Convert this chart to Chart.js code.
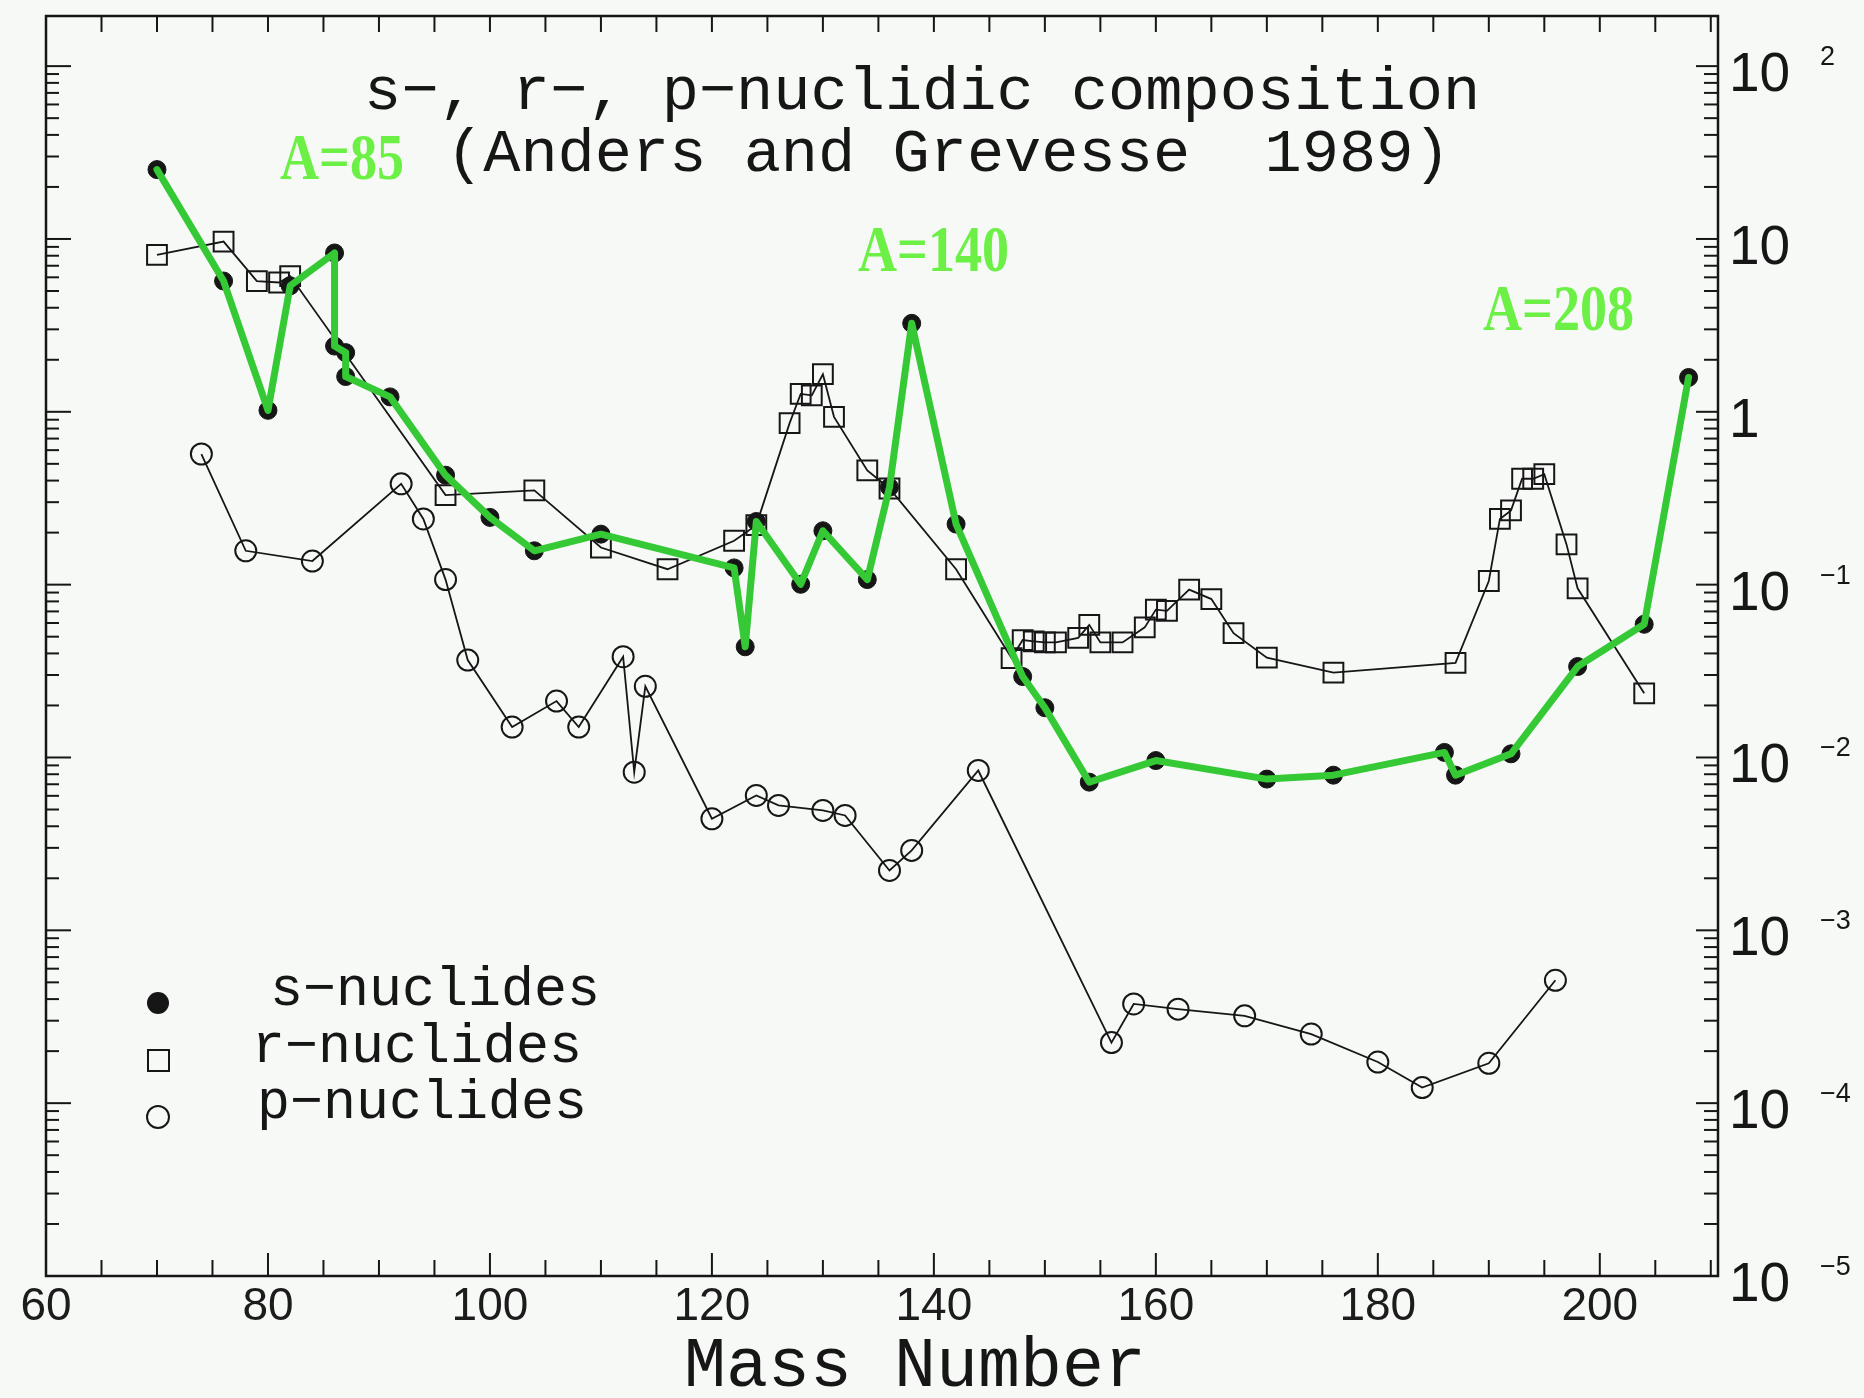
<!DOCTYPE html>
<html>
<head>
<meta charset="utf-8">
<title>s-, r-, p-nuclidic composition</title>
<script src="https://cdn.jsdelivr.net/npm/chart.js@4.4.1/dist/chart.umd.min.js"></script>
<style>
  html, body { margin: 0; padding: 0; background: #f7f9f7; }
  #contenedor { width: 1864px; height: 1398px; }
</style>
</head>
<body>
<div id="contenedor"><canvas id="grafico" width="1864" height="1398"></canvas></div>
<script>
// s-nuclides (puntos negros, unidos por la linea verde)
const sMasa = [70, 76, 80, 82, 86, 86, 87, 87, 91, 96, 100, 104, 110, 122, 123, 124, 128, 130, 134, 136, 138, 142, 148, 150, 154, 160, 170, 176, 186, 187, 192, 198, 204, 208];
const sAbund = [25.2, 5.71, 1.02, 5.36, 8.3, 2.4, 2.2, 1.6, 1.22, 0.43, 0.245, 0.157, 0.196, 0.125, 0.0437, 0.232, 0.1005, 0.205, 0.107, 0.366, 3.25, 0.224, 0.0294, 0.0194, 0.0072, 0.0096, 0.0075, 0.0079, 0.0107, 0.0079, 0.0105, 0.0336, 0.059, 1.58];

// r-nuclides (cuadrados)
const rMasa = [70, 76, 79, 81, 82, 96, 104, 110, 116, 122, 124, 127, 128, 129, 130, 131, 134, 136, 142, 147, 148, 149, 150, 151, 153, 154, 155, 157, 159, 160, 161, 163, 165, 167, 170, 176, 187, 190, 191, 192, 193, 194, 195, 197, 198, 204];
const rAbund = [8.1, 9.66, 5.71, 5.6, 6.1, 0.33, 0.351, 0.164, 0.1228, 0.1795, 0.221, 0.86, 1.27, 1.245, 1.65, 0.935, 0.458, 0.36, 0.1228, 0.0376, 0.0478, 0.047, 0.0463, 0.0463, 0.0492, 0.0585, 0.0463, 0.0463, 0.0566, 0.0717, 0.0706, 0.0936, 0.0825, 0.0524, 0.0378, 0.031, 0.0353, 0.105, 0.24, 0.269, 0.41, 0.41, 0.436, 0.171, 0.0952, 0.0235];

// p-nuclides (circulos abiertos)
const pMasa = [74, 78, 84, 92, 94, 96, 98, 102, 106, 108, 112, 113, 114, 120, 124, 126, 130, 132, 136, 138, 144, 156, 158, 162, 168, 174, 180, 184, 190, 196];
const pAbund = [0.57, 0.157, 0.137, 0.383, 0.24, 0.107, 0.0366, 0.015, 0.0212, 0.015, 0.0383, 0.00822, 0.0258, 0.00442, 0.00603, 0.00528, 0.00494, 0.00462, 0.00222, 0.0029, 0.00841, 2.24e-4, 3.75e-4, 3.5e-4, 3.2e-4, 2.51e-4, 1.73e-4, 1.23e-4, 1.7e-4, 5.14e-4];

// etiquetas de los ejes
const xEtiquetas = [60, 80, 100, 120, 140, 160, 180, 200];
const yDecadas = [1e2, 1e1, 1, 1e-1, 1e-2, 1e-3, 1e-4, 1e-5];
const yBase = ["10", "10", "1", "10", "10", "10", "10", "10"];
const yExpo = ["2", "", "", "\u22121", "\u22122", "\u22123", "\u22124", "\u22125"];

const tinta = "#161616";
const verdeLinea = "#35c935";
const verdeTexto = "#6cf046";

function puntos(masas, valores) {
  return masas.map((m, i) => ({ x: m, y: valores[i] }));
}

function linea(ctx, x1, y1, x2, y2) {
  ctx.beginPath();
  ctx.moveTo(x1, y1);
  ctx.lineTo(x2, y2);
  ctx.stroke();
}

// marco, marcas internas, textos y leyenda
const adornos = {
  id: "adornos",
  afterDraw(chart) {
    const { ctx, chartArea: a } = chart;
    const x = chart.scales.x;
    const y = chart.scales.y;
    ctx.save();
    ctx.strokeStyle = tinta;
    ctx.fillStyle = tinta;
    ctx.lineWidth = 2.5;
    ctx.strokeRect(a.left, a.top, a.right - a.left, a.bottom - a.top);

    // marcas del eje x cada 5 unidades
    ctx.lineWidth = 2;
    for (let m = 65; m < x.max; m += 5) {
      const px = x.getPixelForValue(m);
      linea(ctx, px, a.bottom, px, a.bottom - (m % 20 === 0 ? 23 : 16));
      linea(ctx, px, a.top, px, a.top + 16);
    }

    // marcas logaritmicas del eje y
    for (let e = -5; e <= 2; e++) {
      for (let k = 1; k <= 9; k++) {
        const v = k * Math.pow(10, e);
        if (v > y.max || v <= y.min) continue;
        const py = y.getPixelForValue(v);
        linea(ctx, a.left, py, a.left + (k === 1 ? 25 : 13), py);
        linea(ctx, a.right, py, a.right - (k === 1 ? 22 : 14), py);
      }
    }

    // etiquetas del eje y con exponente
    ctx.textAlign = "left";
    ctx.textBaseline = "alphabetic";
    yDecadas.forEach((v, i) => {
      const py = y.getPixelForValue(v);
      ctx.font = '55px "Liberation Sans"';
      ctx.fillText(yBase[i], a.right + 11, py + 25);
      if (yExpo[i]) {
        ctx.font = '27px "Liberation Sans"';
        ctx.fillText(yExpo[i], a.right + 102, py - 1);
      }
    });

    // titulo
    ctx.font = '62px "Liberation Mono"';
    ctx.fillText("s\u2212, r\u2212, p\u2212nuclidic composition", 364, 109);
    ctx.fillText("(Anders and Grevesse  1989)", 446, 171);

    // titulo del eje x
    ctx.font = '70px "Liberation Mono"';
    ctx.fillText("Mass Number", 684, 1386);

    // leyenda
    ctx.font = '55px "Liberation Mono"';
    ctx.fillText("s\u2212nuclides", 270, 1005);
    ctx.fillText("r\u2212nuclides", 252, 1062);
    ctx.fillText("p\u2212nuclides", 257, 1118);
    ctx.beginPath();
    ctx.arc(158, 1003, 11, 0, 2 * Math.PI);
    ctx.fill();
    ctx.lineWidth = 2;
    ctx.strokeRect(148, 1050, 21, 21);
    ctx.beginPath();
    ctx.arc(158, 1117, 11, 0, 2 * Math.PI);
    ctx.stroke();

    // anotaciones verdes
    ctx.fillStyle = verdeTexto;
    ctx.font = 'bold 66px "Liberation Serif"';
    [["A=85", 280, 179], ["A=140", 858, 271], ["A=208", 1483, 330]].forEach(([t, px, py]) => {
      ctx.save();
      ctx.translate(px, py);
      ctx.scale(0.82, 1);
      ctx.fillText(t, 0, 0);
      ctx.restore();
    });
    ctx.restore();
  },
};

const ctx = document.getElementById("grafico");
window.miGrafico = new Chart(ctx, {
  type: "scatter",
  data: {
    datasets: [
      {
        label: "camino s",
        data: puntos(sMasa, sAbund),
        showLine: true,
        borderColor: verdeLinea,
        borderWidth: 7,
        borderJoinStyle: "round",
        borderCapStyle: "round",
        pointRadius: 0,
        order: 0,
      },
      {
        label: "s-nuclides",
        data: puntos(sMasa, sAbund),
        showLine: false,
        pointStyle: "circle",
        pointRadius: 9,
        backgroundColor: tinta,
        borderColor: tinta,
        borderWidth: 1,
        order: 1,
      },
      {
        label: "r-nuclides",
        data: puntos(rMasa, rAbund),
        showLine: true,
        borderColor: tinta,
        borderWidth: 1.8,
        pointStyle: "rect",
        pointRadius: 14,
        pointBorderWidth: 2,
        backgroundColor: "rgba(0,0,0,0)",
        order: 2,
      },
      {
        label: "p-nuclides",
        data: puntos(pMasa, pAbund),
        showLine: true,
        borderColor: tinta,
        borderWidth: 1.8,
        pointStyle: "circle",
        pointRadius: 10.5,
        pointBorderWidth: 2,
        backgroundColor: "rgba(0,0,0,0)",
        order: 3,
      },
    ],
  },
  options: {
    responsive: false,
    animation: false,
    events: [],
    layout: { padding: { left: 46, top: 13, right: 0, bottom: 0 } },
    plugins: {
      legend: { display: false },
      tooltip: { enabled: false },
      title: { display: false },
    },
    scales: {
      x: {
        type: "linear",
        position: "bottom",
        min: 60,
        max: 210.65,
        grid: { display: false, drawTicks: false },
        border: { display: false },
        ticks: {
          autoSkip: false,
          maxRotation: 0,
          padding: 4,
          color: "#1c1c1c",
          font: { family: "Liberation Sans", size: 46 },
        },
        afterBuildTicks: (eje) => {
          eje.ticks = xEtiquetas.map((v) => ({ value: v }));
        },
        afterFit: (eje) => {
          eje.height = 122;
        },
      },
      y: {
        type: "logarithmic",
        position: "right",
        min: 1e-5,
        max: 195,
        grid: { display: false, drawTicks: false },
        border: { display: false },
        ticks: { display: false },
        afterFit: (eje) => {
          eje.width = 146;
        },
      },
    },
  },
  plugins: [adornos],
});
</script>
</body>
</html>
